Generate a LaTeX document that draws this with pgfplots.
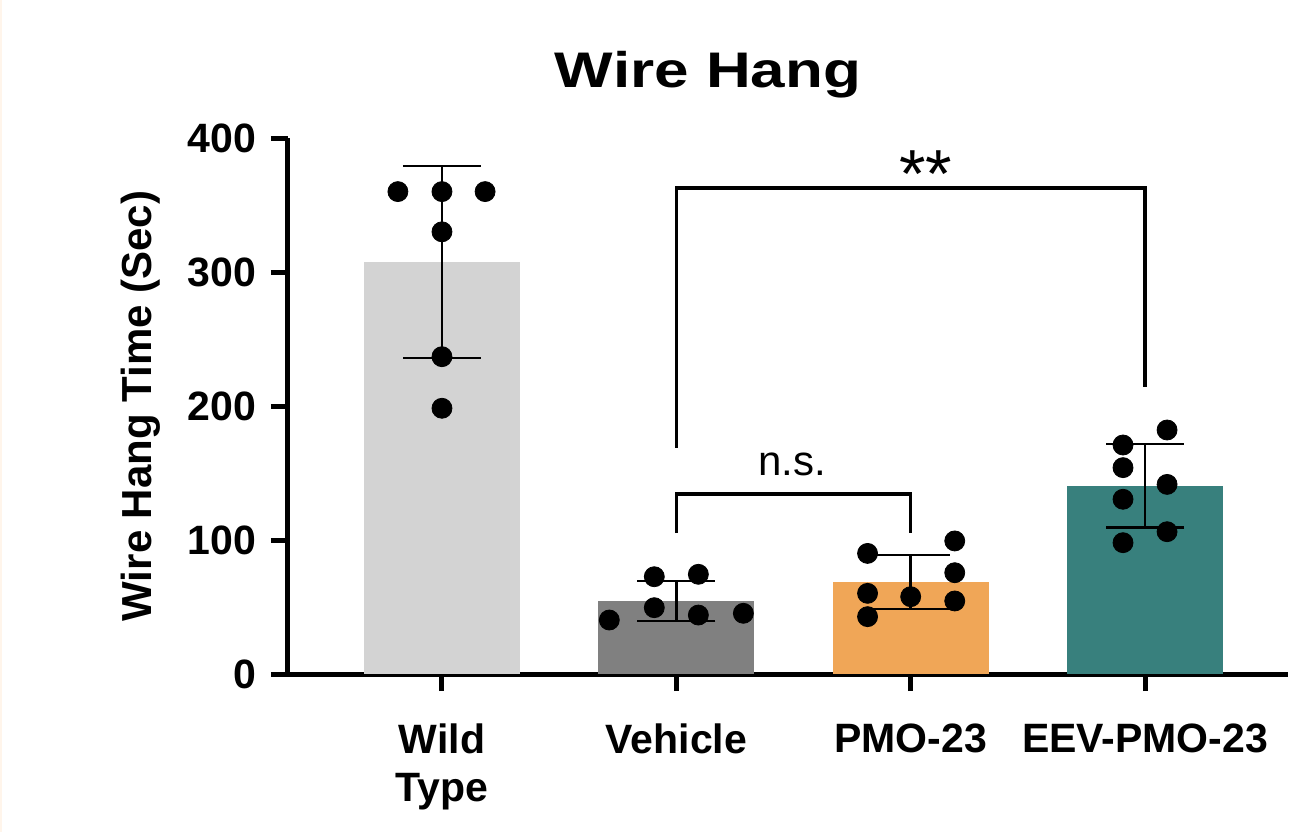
\documentclass[border=0pt]{standalone}
\usepackage{pgfplots}
\pgfplotsset{compat=1.18}
\usepackage{fontspec}
\setmainfont{Liberation Sans}

\definecolor{wtgrey}{RGB}{211,211,211}
\definecolor{vehgrey}{RGB}{128,128,128}
\definecolor{pmoorange}{RGB}{240,166,87}
\definecolor{eevteal}{RGB}{56,128,125}

\begin{document}
\begin{tikzpicture}
% picture frame: 1290x832 px at 0.5pt per px, axis box south west at (0,0)
\path[use as bounding box] (-144pt,-79pt) rectangle (501pt,337pt);
\fill[orange!8] (-144pt,-79pt) rectangle (-142.8pt,337pt);
\begin{axis}[
    scale only axis,
    width=500pt, height=268pt,
    xmin=-0.657, xmax=3.61,
    ymin=0, ymax=400,
    clip=false,
    axis x line*=bottom, axis y line*=left,
    axis line style={line width=2.5pt, -},
    tick align=outside,
    major tick length=8.5pt,
    tick style={line width=2.5pt, black},
    xtick={0,1,2,3},
    xticklabels={Wild\\Type, Vehicle, PMO-23, EEV-PMO-23},
    xticklabel style={font=\fontsize{20.5}{24}\selectfont\bfseries, align=center, yshift=-13pt},
    ytick={0,100,200,300,400},
    yticklabel style={font=\fontsize{20.5}{24}\selectfont\bfseries, xshift=-4pt},
    /pgf/number format/assume math mode=true,
    ylabel={Wire Hang Time (Sec)},
    ylabel style={font=\fontsize{21}{24}\selectfont\bfseries, at={(axis description cs:-0.136,0.5)}, anchor=base},
    every axis plot/.append style={bar width=78pt, bar shift=0pt},
    sdbars/.style={error bars/.cd, y dir=both, y explicit,
        error bar style={line width=1.2pt, black},
        error mark options={rotate=90, line width=1.2pt, black, mark size=19.5pt}},
]
% bars with mean +- SD
\addplot[ybar, fill=wtgrey, draw=none, sdbars]
    coordinates {(0,307.5) +- (0,71.5)};
\addplot[ybar, fill=vehgrey, draw=none, sdbars]
    coordinates {(1,54.4) +- (0,14.8)};
\addplot[ybar, fill=pmoorange, draw=none, sdbars]
    coordinates {(2,68.6) +- (0,20.2)};
\addplot[ybar, fill=eevteal, draw=none, sdbars]
    coordinates {(3,140.4) +- (0,31.2)};

% individual animals
\addplot[only marks, mark=*, mark size=5pt, black] table {
x      y
-0.188 360
0      360
0.184  360
0      330
0      236.8
0      198.3
0.714  40.3
0.906  72.6
0.906  49.5
1.094  74.4
1.094  44
1.286  45.3
1.816  90
1.816  60.2
1.816  42.8
2.0    57.7
2.188  99.3
2.188  75.6
2.188  54.5
2.906  170.9
2.906  154
2.906  130.4
2.906  98
3.094  182.1
3.094  141.5
3.094  106.2
};

% significance brackets
\draw[line width=1.8pt] (axis cs:1,168.7) -- (axis cs:1,362.7) -- (axis cs:3,362.7) -- (axis cs:3,214.2);
\draw[line width=1.8pt] (axis cs:1,105.2) -- (axis cs:1,134.3) -- (axis cs:2,134.3) -- (axis cs:2,105.2);
\node[anchor=base, font=\fontsize{34}{36}\selectfont] at (axis cs:2.065,355.6) {**};
\node[anchor=base, font=\fontsize{21}{24}\selectfont] at (axis cs:1.494,148.5) {n.s.};

% title
\node[anchor=base, font=\fontsize{25}{28}\selectfont\bfseries] at (axis description cs:0.42,1.095) {\scalebox{1.24}[1]{Wire Hang}};
\end{axis}
\end{tikzpicture}
\end{document}
